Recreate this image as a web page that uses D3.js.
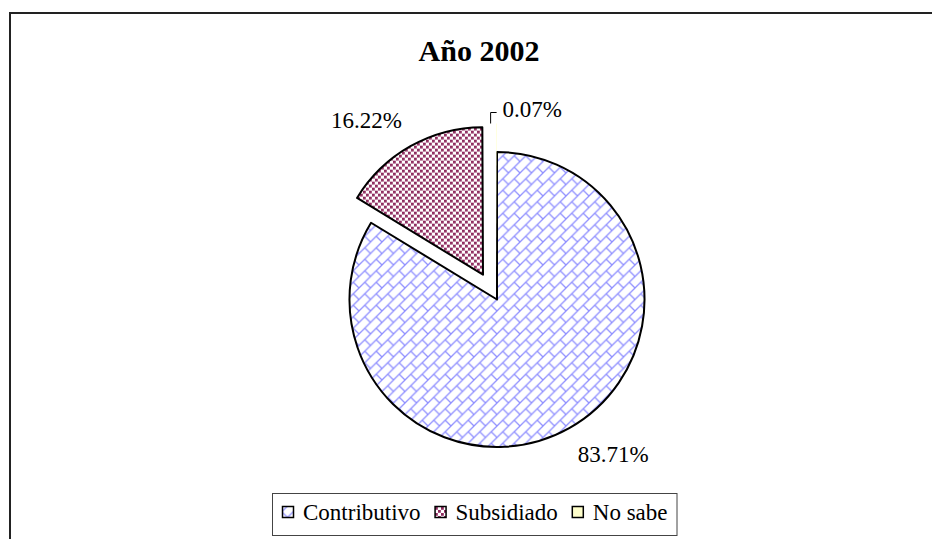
<!DOCTYPE html>
<html>
<head>
<meta charset="utf-8">
<script src="https://cdn.jsdelivr.net/npm/d3@7/dist/d3.min.js"></script>
<style>
  body { margin: 0; background: #fff; }
</style>
</head>
<body>
<div id="chart"></div>
<script>
// data
var categories = ['Contributivo', 'Subsidiado', 'No sabe'];
var shares = [83.71, 16.22, 0.07];
var shareLabels = ['83.71%', '16.22%', '0.07%'];
var chartTitle = 'Año 2002';

// layout
var width = 932, height = 539;
var cx = 497, cy = 299.5, radius = 147.5;
var explode = [0, 28.5, 28.5];
var fills = ['url(#brick)', 'url(#dots)', '#ffffcc'];
var serif = '"Liberation Serif", "Times New Roman", serif';

var svg = d3.select('#chart').append('svg')
  .attr('width', width)
  .attr('height', height)
  .style('font-family', serif);

// fill patterns
var defs = svg.append('defs');
var bs = 11.5;
var brick = defs.append('pattern')
  .attr('id', 'brick')
  .attr('patternUnits', 'userSpaceOnUse')
  .attr('width', bs).attr('height', bs);
brick.append('rect').attr('width', bs).attr('height', bs).attr('fill', '#fff');
brick.append('path')
  .attr('d', 'M-1,' + (bs + 1) + 'L' + (bs + 1) + ',-1M-1,1L1,-1M' + (bs - 1) + ',' + (bs + 1) + 'L' + (bs + 1) + ',' + (bs - 1) +
             'M' + bs / 2 + ',' + bs / 2 + 'L' + bs + ',' + bs)
  .attr('stroke', '#8f8fff')
  .attr('stroke-width', 1.3)
  .attr('fill', 'none');

var ds = 6;
var dots = defs.append('pattern')
  .attr('id', 'dots')
  .attr('patternUnits', 'userSpaceOnUse')
  .attr('width', ds).attr('height', ds);
dots.append('rect').attr('width', ds).attr('height', ds).attr('fill', '#fff');
dots.selectAll('rect.d').data([[0, 0], [3, 3]]).enter().append('rect')
  .attr('class', 'd')
  .attr('x', function(d) { return d[0]; })
  .attr('y', function(d) { return d[1]; })
  .attr('width', 2.8).attr('height', 2.8)
  .attr('fill', '#8e2a5e');

// outer frame
svg.append('rect')
  .attr('x', 10).attr('y', 13)
  .attr('width', 1000).attr('height', 1000)
  .attr('fill', 'none')
  .attr('stroke', '#222')
  .attr('stroke-width', 2);

// title
svg.append('text')
  .attr('x', 479).attr('y', 61)
  .attr('text-anchor', 'middle')
  .style('font-size', '30px')
  .style('font-weight', 'bold')
  .text(chartTitle);

// pie
var pie = d3.pie().sort(null).value(function(d) { return d; });
var arcs = pie(shares);
var arc = d3.arc().innerRadius(0).outerRadius(radius);

function mid(d) { return (d.startAngle + d.endAngle) / 2; }
function offset(d, i) {
  var a = mid(d);
  return [explode[i] * Math.sin(a), -explode[i] * Math.cos(a)];
}

svg.append('g')
  .attr('transform', 'translate(' + cx + ',' + cy + ')')
  .selectAll('path')
  .data(arcs)
  .enter()
  .append('path')
  .attr('transform', function(d, i) {
    var o = offset(d, i);
    return 'translate(' + o[0] + ',' + o[1] + ')';
  })
  .attr('d', arc)
  .attr('fill', function(d, i) { return fills[i]; })
  .attr('stroke', function(d) { return d.value < 1 ? 'none' : '#000'; })
  .attr('stroke-width', 2)
  .attr('stroke-linejoin', 'round');

// data labels
arcs.forEach(function(d, i) {
  var a = mid(d), o = offset(d, i);
  var px = cx + o[0] + radius * Math.sin(a);
  var py = cy + o[1] - radius * Math.cos(a);
  if (d.value < 1) {
    // tiny slice: leader line and label to the right
    svg.append('path')
      .attr('d', 'M' + (px - 6) + ',' + py + 'V' + (py - 11) + 'H' + px)
      .attr('fill', 'none')
      .attr('stroke', '#000')
      .attr('stroke-width', 1);
    svg.append('text')
      .attr('x', px + 6).attr('y', py - 7)
      .style('font-size', '23px')
      .text(shareLabels[i]);
  } else {
    var sx = Math.sin(a) >= 0 ? 1 : -1;
    var sy = -Math.cos(a) >= 0 ? 1 : -1;
    svg.append('text')
      .attr('x', px + sx * 44)
      .attr('y', py + sy * 26)
      .attr('text-anchor', 'middle')
      .attr('dominant-baseline', 'central')
      .style('font-size', '23px')
      .text(shareLabels[i]);
  }
});

// legend
var legend = svg.append('g');
var legendBox = legend.append('rect')
  .attr('fill', '#fff')
  .attr('stroke', '#444')
  .attr('stroke-width', 1);
var lx = 282, ly = 520;
categories.forEach(function(c, i) {
  legend.append('rect')
    .attr('x', lx + 0.5).attr('y', ly - 13.5)
    .attr('width', 11).attr('height', 11)
    .attr('fill', fills[i])
    .attr('stroke', '#000')
    .attr('stroke-width', 1.5);
  var t = legend.append('text')
    .attr('x', lx + 21).attr('y', ly)
    .style('font-size', '23px')
    .text(c);
  lx += 21 + t.node().getComputedTextLength() + 14;
});
legendBox
  .attr('x', 272.5).attr('y', 493.5)
  .attr('width', 677 - 272.5).attr('height', 42);
</script>
</body>
</html>
